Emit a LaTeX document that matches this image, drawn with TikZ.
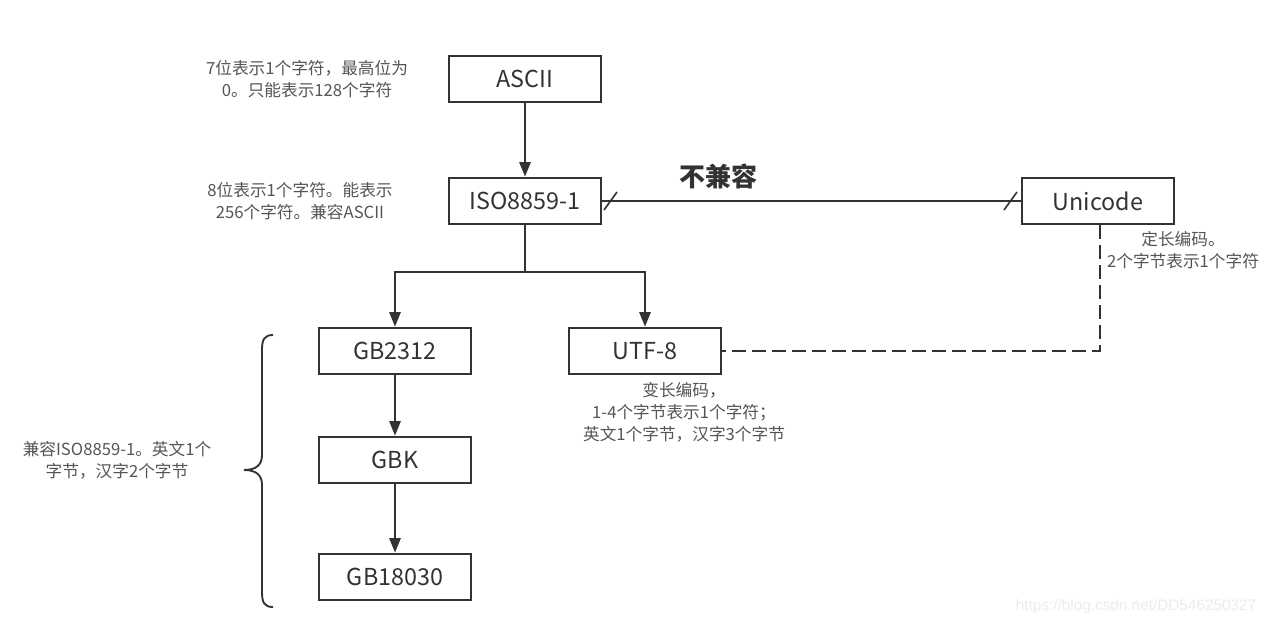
\documentclass[tikz,border=0pt]{standalone}
\usepackage{fontspec}
\setmainfont{Noto Sans CJK SC}
\newfontfamily\wmfont{Liberation Sans}
\usetikzlibrary{arrows.meta}
\definecolor{linec}{HTML}{333333}
\definecolor{txtc}{HTML}{555555}
\definecolor{wmc}{HTML}{ECECEC}
\begin{document}
\begin{tikzpicture}[x=0.75pt,y=-0.75pt,
  enc/.style={draw=linec,line width=1.5pt,minimum width=114pt,minimum height=35pt,inner sep=0pt,font=\fontsize{17.5}{20}\selectfont,text=linec},
  note/.style={align=center,font=\fontsize{12.5}{16.5}\selectfont,text=txtc,inner sep=0pt},
  conn/.style={draw=linec,line width=1.5pt},
  arr/.style={conn,-{Triangle[length=11pt,width=8.5pt]}}]
\useasboundingbox (0,0) rectangle (1269,625);
\fill[white] (0,0) rectangle (1269,625);
% boxes
\node[enc] (ascii) at (525,79) {ASCII};
\node[enc] (iso) at (525,201) {ISO8859-1};
\node[enc] (uni) at (1098,201) {Unicode};
\node[enc] (gb2312) at (395,351) {GB2312};
\node[enc] (utf8) at (645,351) {UTF-8};
\node[enc] (gbk) at (395,460) {GBK};
\node[enc] (gb18030) at (395,577) {GB18030};
% notes
\node[note] (nascii) at (307,79) {7位表示1个字符，最高位为\\0。只能表示128个字符};
\node[note] (niso) at (300,201) {8位表示1个字符。能表示\\256个字符。兼容ASCII};
\node[font=\fontsize{19.5}{22}\selectfont\bfseries,text=linec,inner sep=0pt] (incomp) at (718,176) {不兼容};
\node[note] (nuni) at (1183,250) {定长编码。\\2个字节表示1个字符};
\node[note] (nutf) at (684,412) {变长编码，\\1-4个字节表示1个字符；\\英文1个字节，汉字3个字节};
\node[note] (ngb) at (117,460) {兼容ISO8859-1。英文1个\\字节，汉字2个字节};
% connectors
\draw[arr] (ascii.south) -- (iso.north);
\coordinate (split) at (525,272);
\draw[conn] (iso.south) -- (split);
\draw[arr] (split) -| (gb2312.north);
\draw[arr] (split) -| (utf8.north);
\draw[arr] (gb2312.south) -- (gbk.north);
\draw[arr] (gbk.south) -- (gb18030.north);
\draw[conn] (iso.east) -- (uni.west);
\draw[conn,line width=1.2pt] (604,210) -- (617,192);
\draw[conn,line width=1.2pt] (1004,210) -- (1017,192);
\coordinate (corner) at (1100,351);
\draw[conn,dash pattern=on 10pt off 5pt] (uni.south -| corner) -- (corner) -- (utf8.east);
% brace
\draw[conn,line width=1.4pt] (273,335) .. controls (264,335) and (262,340) .. (262,350) -- (262,455)
  .. controls (262,465) and (256,470) .. (244,470)
  .. controls (256,470) and (262,475) .. (262,485) -- (262,592)
  .. controls (262,602) and (264,607) .. (273,607);
% watermark
\node[font=\wmfont\fontsize{11.5}{13}\selectfont,text=wmc,inner sep=0pt] (wm) at (1136,607) {https://blog.csdn.net/DD546250327};
\end{tikzpicture}
\end{document}
